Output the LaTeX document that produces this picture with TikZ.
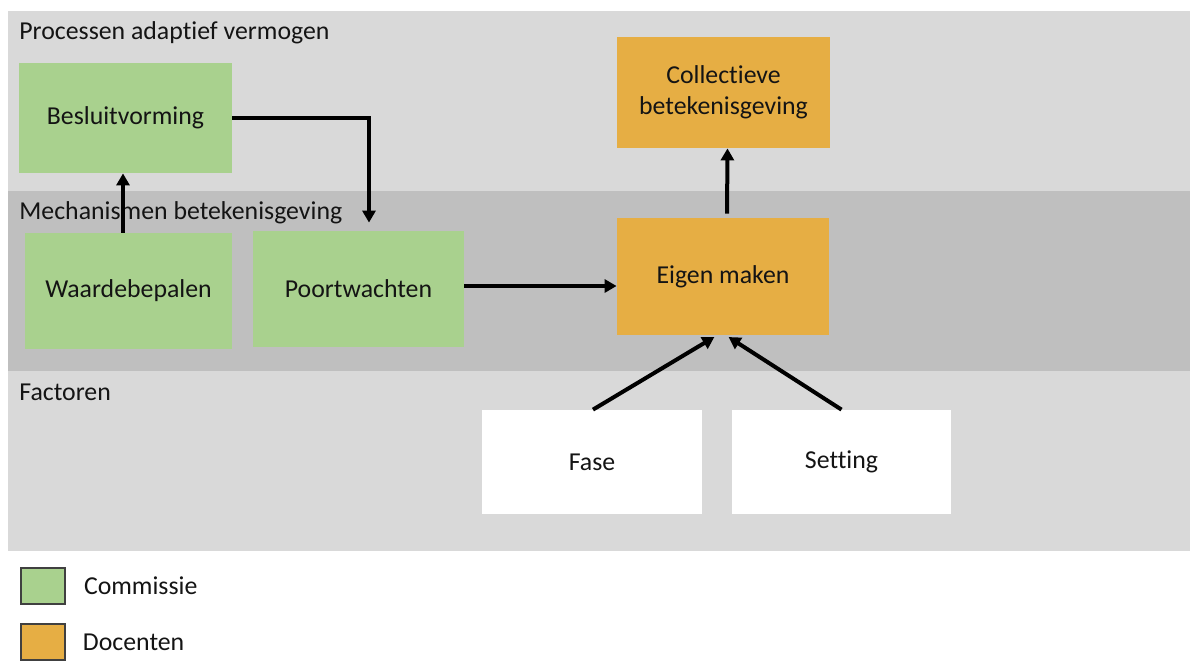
\documentclass[tikz,border=0pt]{standalone}
\usepackage{fontspec}
\setmainfont{Carlito}[Ligatures=NoCommon]
\usetikzlibrary{arrows.meta,positioning}
\definecolor{bandlight}{RGB}{217,217,217}
\definecolor{banddark}{RGB}{191,191,191}
\definecolor{comgreen}{RGB}{169,209,142}
\definecolor{docorange}{RGB}{230,174,68}
\definecolor{txt}{RGB}{20,20,20}
\tikzset{
  box/.style={rectangle, inner sep=0pt, align=center, font=\fontsize{12.9}{15.5}\selectfont, text=txt},
  greenbox/.style={box, fill=comgreen},
  orangebox/.style={box, fill=docorange},
  whitebox/.style={box, fill=white},
  bandlabel/.style={anchor=west, inner sep=0pt, font=\fontsize{12.9}{15}\selectfont, text=txt},
  arr/.style={line width=2pt, -{Triangle[length=6pt,width=6.5pt]}},
  legbox/.style={rectangle, draw=black!75, line width=0.6pt, minimum width=22pt, minimum height=18pt, inner sep=0pt}
}
\begin{document}
\begin{tikzpicture}[x=0.5pt,y=-0.5pt]
\useasboundingbox (0,0) rectangle (1190,660);
% bands
\fill[bandlight] (8,11) rectangle (1190,191);
\fill[banddark] (8,191) rectangle (1190,371);
\fill[bandlight] (8,371) rectangle (1190,551);
\node[bandlabel] (l1) at (19,33) {Processen adaptief vermogen};
\node[bandlabel] (l2) at (19,213) {Mechanismen betekenisgeving};
\node[bandlabel] (l3) at (19,392) {Factoren};
% nodes
\node[greenbox, minimum width=106.5pt, minimum height=55pt] (besluit) at (125.5,118) {Besluitvorming};
\node[greenbox, minimum width=103.5pt, minimum height=58pt] (waarde) at (128.5,291) {Waardebepalen};
\node[greenbox, minimum width=105.5pt, minimum height=58pt] (poort) at (358.5,289) {Poortwachten};
\node[orangebox, minimum width=106pt, minimum height=58.5pt] (eigen) at (723,276.5) {Eigen maken};
\node[orangebox, minimum width=106.5pt, minimum height=55.5pt] (collect) at (723.5,92.5) {Collectieve\\betekenisgeving};
\node[whitebox, minimum width=110pt, minimum height=52pt] (fase) at (592,462) {Fase};
\node[whitebox, minimum width=109.5pt, minimum height=52pt] (setting) at (841.5,462) {Setting};
% arrows
\draw[arr] ([xshift=-2.75pt]waarde.north) -- ([xshift=-2.75pt]waarde.north |- besluit.south);
\draw[arr, shorten >=4pt] (besluit.east) -| ([xshift=5.25pt]poort.north);
\draw[arr] ([yshift=1.5pt]poort.east) -- ([yshift=1.5pt]poort.east -| eigen.west);
\draw[arr, shorten <=2pt] ([xshift=2pt]eigen.north) -- ([xshift=2pt]collect.south);
\draw[arr, shorten >=1.5pt] ([xshift=0.5pt]fase.north) -- ([xshift=-3pt]eigen.south);
\draw[arr, shorten >=1.5pt] (setting.north) -- ([xshift=1.5pt]eigen.south);
% legend
\node[legbox, fill=comgreen] (legc) at (43,586) {};
\node[bandlabel, right=9pt of legc] (legct) {Commissie};
\node[legbox, fill=docorange] (legd) at (43,642) {};
\node[bandlabel, right=8.5pt of legd] (legdt) {Docenten};
\end{tikzpicture}
\end{document}
